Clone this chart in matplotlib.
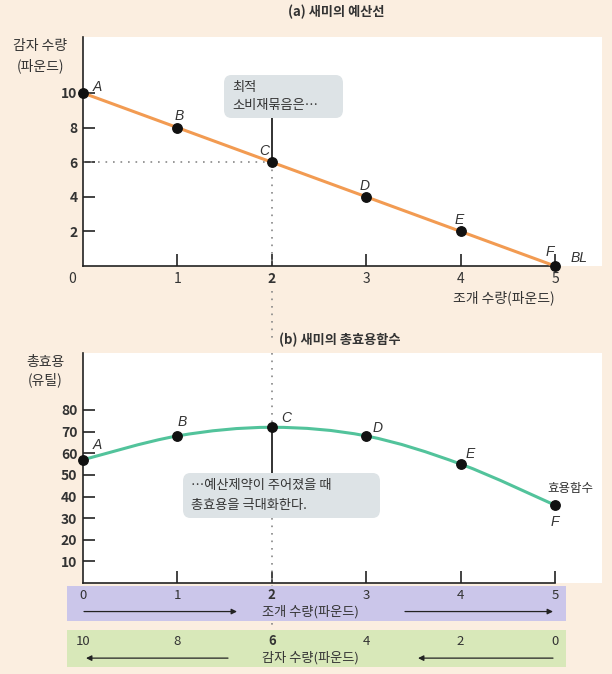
import matplotlib
matplotlib.use("Agg")
import matplotlib.pyplot as plt
from matplotlib.patches import FancyBboxPatch
from matplotlib.path import Path
from matplotlib.patches import PathPatch
import numpy as np

plt.rcParams['font.family'] = ['Noto Sans CJK KR', 'DejaVu Sans']

# ---------------- data ----------------
points = ['A', 'B', 'C', 'D', 'E', 'F']
clams = [0, 1, 2, 3, 4, 5]
potatoes = [10, 8, 6, 4, 2, 0]
total_utility = [57, 68, 72, 68, 55, 36]
ytick_top = [2, 4, 6, 8, 10]
ytick_bottom = [10, 20, 30, 40, 50, 60, 70, 80]
clam_ticks = [0, 1, 2, 3, 4, 5]
potato_ticks = [10, 8, 6, 4, 2, 0]
optimum_idx = 2

W, H = 612, 674
BG = '#fbeee0'
ORANGE = '#f29b52'
GREEN = '#52c39b'
TXT = '#333333'
BOX = '#dde3e6'

fig = plt.figure(figsize=(W / 100, H / 100), dpi=100, facecolor=BG)


def fx(px):
    return px / W


def fy(py):
    return 1 - py / H


def axes_px(left, top, right, bottom):
    return [fx(left), fy(bottom), (right - left) / W, (bottom - top) / H]


# ---------------- panel (a) ----------------
ax1 = fig.add_axes(axes_px(83, 37, 602, 266))
ax1.set_facecolor('white')
ax1.set_xlim(0, (602 - 83) / 94.4)
ax1.set_ylim(0, (266 - 37) / 17.3)
for s in ['top', 'right']:
    ax1.spines[s].set_visible(False)
ax1.spines['bottom'].set_bounds(0, 5)
for s in ['left', 'bottom']:
    ax1.spines[s].set_linewidth(1.2)
    ax1.spines[s].set_color('#222222')
ax1.set_xticks(clam_ticks[1:])
ax1.set_xticklabels([str(v) for v in clam_ticks[1:]])
ax1.set_yticks(ytick_top)
ax1.set_yticklabels([str(v) for v in ytick_top])
ax1.tick_params(direction='in', length=8.5, width=1.2, colors='#222222',
                labelsize=10, labelcolor=TXT, pad=4)
for lab in ax1.get_yticklabels():
    lab.set_fontweight('bold')
for lab in ax1.get_xticklabels():
    if lab.get_text() == str(clams[optimum_idx]):
        lab.set_fontweight('bold')
ax1.text(-0.12, -0.32, '0', ha='center', va='top', fontsize=10, color=TXT,
         clip_on=False)

ax1.plot(clams, potatoes, color=ORANGE, lw=2.2, zorder=3, clip_on=False,
         solid_capstyle='round')
ax1.plot(clams, potatoes, 'o', color='#111111', ms=6.8, zorder=4, clip_on=False)

cx, cy = clams[optimum_idx], potatoes[optimum_idx]
ax1.plot([0, cx], [cy, cy], color='#888888', lw=1.2, ls=(0, (1, 3.5)), zorder=2)
ax1.plot([cx, cx], [cy, 0], color='#888888', lw=1.2, ls=(0, (1, 3.5)), zorder=2)
ax1.plot([cx, cx], [-1.45, -4.4], color='#888888', lw=1.2, ls=(0, (1, 3.5)),
         zorder=2, clip_on=False)

lab_off_a = {'A': (0.15, 0.35), 'B': (0.02, 0.65), 'C': (-0.08, 0.65),
             'D': (-0.02, 0.65), 'E': (-0.02, 0.65), 'F': (-0.05, 0.8)}
for p, x, y in zip(points, clams, potatoes):
    dx, dy = lab_off_a[p]
    ax1.text(x + dx, y + dy, p, ha='center', va='center', fontsize=10,
             family='Liberation Sans', style='italic', color=TXT, clip_on=False)
ax1.text(5.16, 0.45, 'BL', ha='left', va='center', fontsize=10,
         family='Liberation Sans', style='italic', color=TXT)

# connector to box
ax1.plot([cx, cx], [cy, (266 - 118) / 17.3], color='#222222', lw=1.3, zorder=3)

ax1.text((555 - 83) / 94.4, (266 - 298) / 17.3, '조개 수량(파운드)', ha='right',
         va='center', fontsize=10, color=TXT, clip_on=False)

fig.text(fx(336), fy(12), '(a) 새미의 예산선', ha='center', va='center',
         fontsize=9.5, fontweight='bold', color=TXT)
fig.text(fx(40), fy(46), '감자 수량', ha='center', va='center', fontsize=10, color=TXT)
fig.text(fx(40), fy(66), '(파운드)', ha='center', va='center', fontsize=10, color=TXT)

# ---------------- panel (b) ----------------
ax2 = fig.add_axes(axes_px(83, 353, 602, 583))
ax2.set_facecolor('white')
ax2.set_xlim(0, (602 - 83) / 94.4)
ax2.set_ylim(0, (583 - 353) / 2.1625)
for s in ['top', 'right']:
    ax2.spines[s].set_visible(False)
ax2.spines['bottom'].set_bounds(0, 5)
for s in ['left', 'bottom']:
    ax2.spines[s].set_linewidth(1.2)
    ax2.spines[s].set_color('#222222')
ax2.set_xticks(clam_ticks[1:])
ax2.set_xticklabels([])
ax2.set_yticks(ytick_bottom)
ax2.set_yticklabels([str(v) for v in ytick_bottom])
ax2.tick_params(direction='in', length=8.5, width=1.2, colors='#222222',
                labelsize=10, labelcolor=TXT, pad=4)
for lab in ax2.get_yticklabels():
    lab.set_fontweight('bold')

# smooth curve through points (Catmull-Rom -> cubic Bezier)
xs = np.array(clams, float)
ys = np.array(total_utility, float)
verts = [(xs[0], ys[0])]
codes = [Path.MOVETO]
n = len(xs)
for i in range(n - 1):
    p0 = np.array([xs[max(i - 1, 0)], ys[max(i - 1, 0)]])
    p1 = np.array([xs[i], ys[i]])
    p2 = np.array([xs[i + 1], ys[i + 1]])
    p3 = np.array([xs[min(i + 2, n - 1)], ys[min(i + 2, n - 1)]])
    c1 = p1 + (p2 - p0) / 6
    c2 = p2 - (p3 - p1) / 6
    verts += [tuple(c1), tuple(c2), tuple(p2)]
    codes += [Path.CURVE4] * 3
ax2.add_patch(PathPatch(Path(verts, codes), facecolor='none', edgecolor=GREEN,
                        lw=2.2, zorder=3, clip_on=False))
ax2.plot(clams, total_utility, 'o', color='#111111', ms=6.8, zorder=4, clip_on=False)

ux, uy = clams[optimum_idx], total_utility[optimum_idx]
top_b = (583 - 353) / 2.1625
ax2.plot([ux, ux], [top_b, uy], color='#888888', lw=1.2, ls=(0, (1, 3.5)), zorder=2)
ax2.plot([ux, ux], [(583 - 518) / 2.1625, -21.5], color='#888888', lw=1.2,
         ls=(0, (1, 3.5)), zorder=2, clip_on=False)
ax2.plot([ux, ux], [uy, (583 - 473) / 2.1625], color='#222222', lw=1.3, zorder=3)

lab_off_b = {'A': (0.15, 7), 'B': (0.05, 6.5), 'C': (0.15, 4.5),
             'D': (0.12, 3.5), 'E': (0.1, 4.5), 'F': (0.0, -8)}
for p, x, y in zip(points, clams, total_utility):
    dx, dy = lab_off_b[p]
    ax2.text(x + dx, y + dy, p, ha='center', va='center', fontsize=10,
             family='Liberation Sans', style='italic', color=TXT, clip_on=False)
ax2.text((570 - 83) / 94.4, (583 - 489) / 2.1625, '효용함수', ha='center',
         va='center', fontsize=9, color=TXT)

fig.text(fx(340), fy(340), '(b) 새미의 총효용함수', ha='center', va='center',
         fontsize=9.5, fontweight='bold', color=TXT)
fig.text(fx(45), fy(362), '총효용', ha='center', va='center', fontsize=10, color=TXT)
fig.text(fx(45), fy(380), '(유틸)', ha='center', va='center', fontsize=10, color=TXT)

# ---------------- annotation boxes ----------------
def add_box(left, top, right, bottom):
    b = FancyBboxPatch((fx(left), fy(bottom)), fx(right - left), (bottom - top) / H,
                       boxstyle='round,pad=0,rounding_size=0.012',
                       transform=fig.transFigure, facecolor=BOX, edgecolor='none',
                       zorder=5)
    fig.patches.append(b)


add_box(224, 75, 343, 118)
fig.text(fx(232), fy(88), '최적', ha='left', va='center', fontsize=9.5,
         color=TXT, zorder=6)
fig.text(fx(232), fy(105), '소비재묶음은…', ha='left', va='center', fontsize=9.5,
         color=TXT, zorder=6)

add_box(183, 473, 380, 518)
fig.text(fx(191), fy(486), '…예산제약이 주어졌을 때', ha='left', va='center',
         fontsize=9.5, color=TXT, zorder=6)
fig.text(fx(191), fy(505), '총효용을 극대화한다.', ha='left', va='center',
         fontsize=9.5, color=TXT, zorder=6)

# ---------------- bands ----------------
def band(top, bottom, color, ticks, label, direction, y_num, y_lab, arrows):
    ax = fig.add_axes(axes_px(67, top, 566, bottom))
    ax.set_facecolor(color)
    ax.set_xlim((67 - 83) / 94.4, (566 - 83) / 94.4)
    ax.set_ylim(0, 1)
    for s in ax.spines.values():
        s.set_visible(False)
    ax.set_xticks([])
    ax.set_yticks([])
    for pos, t in zip(clams, ticks):
        ax.text(pos, y_num, str(t), ha='center', va='center', fontsize=9.5,
                color=TXT, fontweight='bold' if pos == clams[optimum_idx] else 'normal')
    ax.text((262 - 83) / 94.4, y_lab, label, ha='left', va='center',
            fontsize=9.5, color=TXT)
    for (x0, x1) in arrows:
        if direction > 0:
            start, end = x0, x1
        else:
            start, end = x1, x0
        ax.annotate('', xy=((end - 83) / 94.4, y_lab), xytext=((start - 83) / 94.4, y_lab),
                    arrowprops=dict(arrowstyle='-|>', color='#222222', lw=0.9,
                                    mutation_scale=8, shrinkA=0, shrinkB=0))
    return ax


band(586, 621, '#cbc6ea', clam_ticks, '조개 수량(파운드)', 1, 0.74, 0.27,
     [(84, 237), (405, 553)])
band(630, 667, '#d8e8b9', potato_ticks, '감자 수량(파운드)', -1, 0.70, 0.24,
     [(86, 228), (418, 553)])

fig.savefig('out.png', dpi=100, facecolor=BG)
